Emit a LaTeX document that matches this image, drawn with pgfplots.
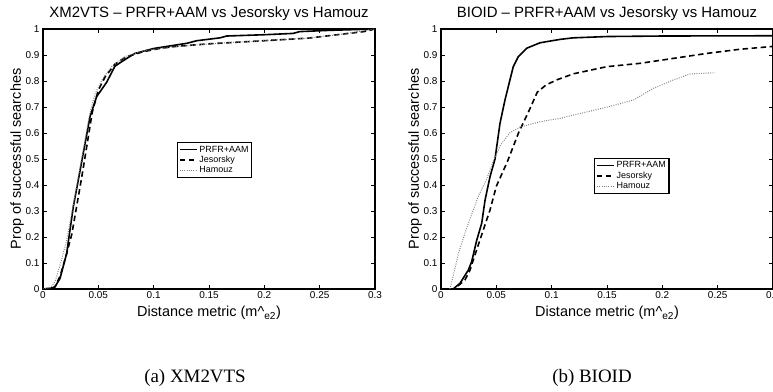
\documentclass[border=0pt]{standalone}
\usepackage{pgfplots}
\pgfplotsset{compat=1.18}
\usepackage{fontspec}
\setmainfont{Liberation Sans}
\newfontfamily\serifcap{Liberation Serif}
\pgfplotsset{
  mystyle/.style={
    scale only axis, width=332bp, height=260bp,
    xmin=0, xmax=0.3, ymin=0, ymax=1,
    xtick={0,0.05,0.1,0.15,0.2,0.25,0.3},
    xticklabels={0,0.05,0.1,0.15,0.2,0.25,0.3},
    ytick={0,0.1,0.2,0.3,0.4,0.5,0.6,0.7,0.8,0.9,1},
    yticklabels={0,0.1,0.2,0.3,0.4,0.5,0.6,0.7,0.8,0.9,1},
    tick label style={font=\fontsize{10}{12}\selectfont},
    xticklabel style={yshift=1bp},
    label style={font=\fontsize{14.5}{17}\selectfont},
    ylabel shift=-5bp,
    xlabel style={yshift=-1bp},
    title style={font=\fontsize{15}{17}\selectfont, yshift=-1bp},
    axis line style={line width=1.3bp},
    major tick length=4bp,
    every tick/.style={black, line width=0.6bp},
    anchor=south west,
    legend cell align=left,
    legend style={draw=black, line width=1.1bp, font=\fontsize{9}{9}\selectfont,
      inner sep=1.2bp, row sep=-1.5bp, anchor=north west},
    xlabel={Distance metric (m\textasciicircum\textsubscript{e2})},
    ylabel={Prop of successful searches},
  },
  sol/.style={black, line width=1.6bp},
  das/.style={black, line width=1.6bp, dash pattern=on 5.5bp off 3.5bp},
  dot/.style={black!50, line width=1bp, dash pattern=on 0.9bp off 1.4bp},
}
\begin{document}
\begin{tikzpicture}
\useasboundingbox (0,0) rectangle (773bp,392bp);
\begin{axis}[mystyle, at={(43bp,103bp)},
  title={XM2VTS -- PRFR+AAM vs Jesorsky vs Hamouz},
  legend style={at={(rel axis cs:0.404,0.565)}}]
\addplot[sol] coordinates {(0,0) (0.005,0.002) (0.0105,0.006) (0.0154,0.041) (0.0214,0.137) (0.0274,0.317) (0.0319,0.419) (0.0425,0.663) (0.0485,0.74) (0.0575,0.795) (0.065,0.857) (0.075,0.885) (0.083,0.906) (0.1,0.925) (0.115,0.935) (0.13,0.945) (0.139,0.955) (0.16,0.966) (0.166,0.973) (0.2,0.978) (0.226,0.983) (0.232,0.99) (0.26,0.995) (0.3,1.0)};
\addlegendentry{PRFR+AAM}
\addplot[das] coordinates {(0,0) (0.008,0.002) (0.011,0.01) (0.0155,0.05) (0.021,0.13) (0.026,0.21) (0.0305,0.32) (0.035,0.43) (0.04,0.56) (0.0445,0.68) (0.05,0.765) (0.056,0.815) (0.065,0.865) (0.075,0.893) (0.09,0.912) (0.105,0.925) (0.12,0.933) (0.15,0.943) (0.2,0.955) (0.24,0.965) (0.27,0.98) (0.29,0.99) (0.3,1.0)};
\addlegendentry{Jesorsky}
\addplot[dot] coordinates {(0,0) (0.007,0.005) (0.011,0.03) (0.016,0.1) (0.021,0.18) (0.026,0.29) (0.031,0.41) (0.037,0.55) (0.042,0.67) (0.047,0.75) (0.054,0.81) (0.063,0.86) (0.075,0.895) (0.09,0.915) (0.105,0.925) (0.12,0.932) (0.15,0.943) (0.2,0.955) (0.24,0.965) (0.27,0.98) (0.3,1.0)};
\addlegendentry{Hamouz}
\end{axis}
\begin{axis}[mystyle, at={(441bp,103bp)},
  title={BIOID -- PRFR+AAM vs Jesorsky vs Hamouz},
  legend style={at={(rel axis cs:0.462,0.504)}}]
\addplot[sol] coordinates {(0,0) (0.011,0.0) (0.0172,0.022) (0.0247,0.073) (0.0277,0.105) (0.0323,0.188) (0.0368,0.253) (0.0398,0.342) (0.0443,0.432) (0.0488,0.5) (0.0533,0.637) (0.0578,0.727) (0.0623,0.804) (0.0653,0.855) (0.0699,0.894) (0.0774,0.926) (0.0895,0.947) (0.1075,0.96) (0.1195,0.966) (0.15,0.971) (0.2,0.973) (0.3,0.974)};
\addlegendentry{PRFR+AAM}
\addplot[das] coordinates {(0,0) (0.012,0.0) (0.0217,0.035) (0.0262,0.073) (0.0307,0.131) (0.0382,0.227) (0.0443,0.304) (0.05,0.395) (0.06,0.49) (0.07,0.6) (0.08,0.69) (0.087,0.757) (0.095,0.785) (0.105,0.805) (0.12,0.828) (0.1497,0.855) (0.18,0.868) (0.21,0.887) (0.24,0.906) (0.27,0.922) (0.3,0.933)};
\addlegendentry{Jesorsky}
\addplot[dot] coordinates {(0.008,0) (0.011,0.05) (0.016,0.14) (0.022,0.22) (0.028,0.29) (0.034,0.36) (0.041,0.42) (0.047,0.49) (0.054,0.555) (0.062,0.6) (0.071,0.622) (0.09,0.644) (0.1075,0.656) (0.1195,0.669) (0.1497,0.699) (0.174,0.727) (0.192,0.772) (0.21,0.804) (0.225,0.827) (0.2476,0.832)};
\addlegendentry{Hamouz}
\end{axis}
\node[font=\serifcap\fontsize{19}{22}\selectfont] at (195bp,14bp) {(a) XM2VTS};
\node[font=\serifcap\fontsize{19}{22}\selectfont] at (592bp,14bp) {(b) BIOID};
\end{tikzpicture}
\end{document}
